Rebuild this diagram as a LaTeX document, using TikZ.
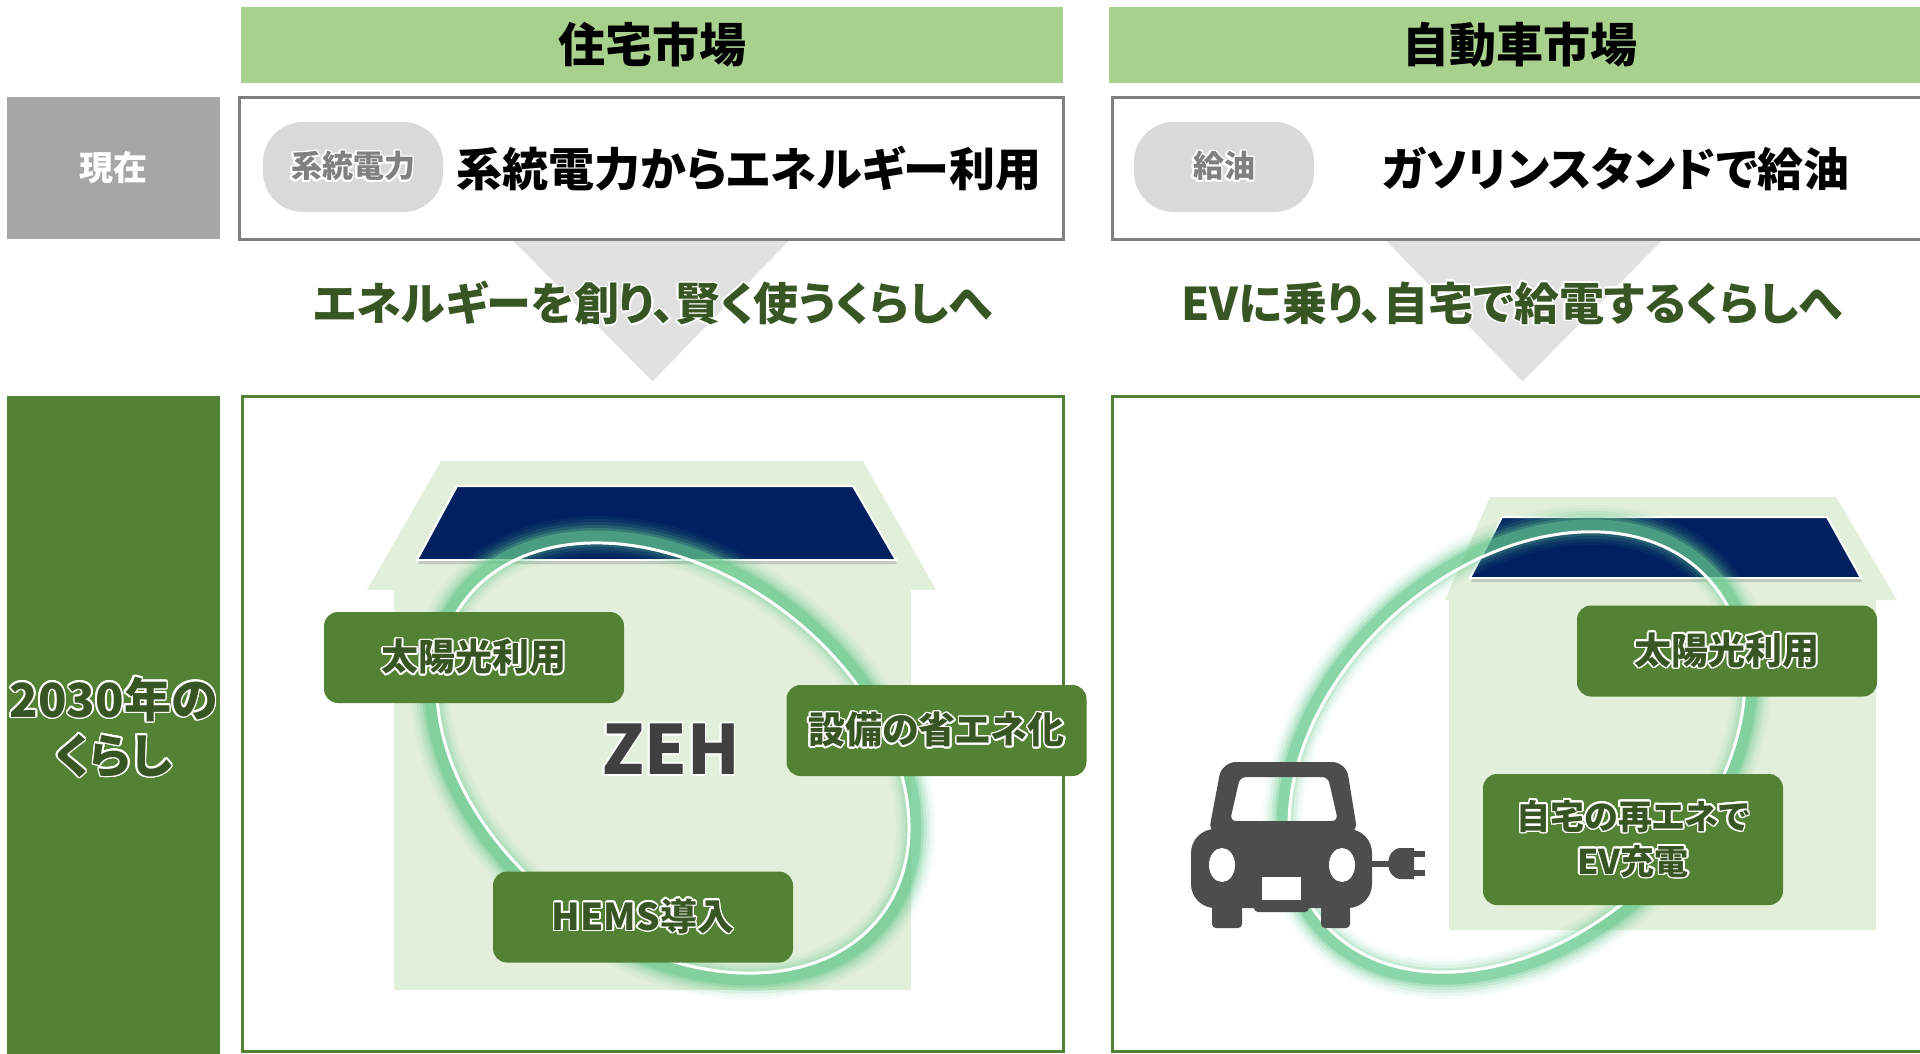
\documentclass[tikz,border=0pt]{standalone}
\usepackage{fontspec}
\setmainfont{Noto Sans CJK JP}[RawFeature=+palt]
\usepackage{xcolor}
\usepackage[copies]{contour}
\usetikzlibrary{positioning,shadows,calc,backgrounds}
\definecolor{hdrgreen}{RGB}{169,209,142}
\definecolor{lifegreen}{RGB}{84,130,53}
\definecolor{txtgreen}{RGB}{55,86,35}
\definecolor{housegreen}{RGB}{226,239,218}
\definecolor{panelnavy}{RGB}{0,32,96}
\definecolor{nowgray}{RGB}{166,166,166}
\definecolor{boxgray}{RGB}{128,128,128}
\definecolor{pillgray}{RGB}{217,217,217}
\definecolor{arrowgray}{RGB}{225,225,225}
\definecolor{glowgreen}{RGB}{100,200,140}
\definecolor{cargray}{RGB}{77,77,77}
\definecolor{zehgray}{RGB}{64,64,64}
\contourlength{1.6pt}
\newcommand\glowtxt[1]{\contour{white}{#1}}

\begin{document}
\begin{tikzpicture}[x=1pt, y=-1pt,
    hdr/.style={fill=hdrgreen, minimum width=822, minimum height=76, inner sep=0,
      font=\fontsize{47}{50}\selectfont\bfseries},
    sidebox/.style={inner sep=0, minimum width=213, font=\fontsize{34}{38}\selectfont\bfseries},
    nowbox/.style={draw=boxgray, line width=3, fill=white, minimum width=824, minimum height=142},
    lifebox/.style={draw=lifegreen, line width=3, minimum width=821, minimum height=655},
    pill/.style={fill=pillgray, rounded corners=40, minimum width=180, minimum height=90,
      text=boxgray, font=\fontsize{31}{34}\selectfont\bfseries},
    nowtxt/.style={font=\fontsize{46}{50}\selectfont\bfseries},
    msgtxt/.style={text=txtgreen, font=\fontsize{45}{50}\selectfont\bfseries},
    tag/.style={fill=lifegreen, rounded corners=14, minimum width=300, minimum height=91,
      text=txtgreen, align=center, font=\fontsize{37}{45}\selectfont\bfseries},
    house/.style={fill=housegreen},
    panel/.style={fill=panelnavy, draw=white, line width=2,
      drop shadow={opacity=0.35, shadow xshift=1pt, shadow yshift=-4pt}},
    glow/.style={glowgreen, line width=#1}]
    \useasboundingbox (0,0) rectangle (1920,1053);

    % Headers
    \node[hdr] (homehdr) at (652,45) {住宅市場};
    \node[hdr, right=46pt of homehdr] (carhdr) {自動車市場};

    % Row labels
    \node[sidebox, fill=nowgray, minimum height=142, text=white] (nowlbl) at (113.5,168) {現在};
    \node[sidebox, fill=lifegreen, minimum height=664, text=txtgreen, align=center,
      font=\fontsize{47}{56}\selectfont\bfseries] (lifelbl) at (113.5,728)
      {\glowtxt{2030年の}\\\glowtxt{くらし}};

    % Present
    \node[nowbox] (homenow) at (651,168) {};
    \node[nowbox, right=46pt of homenow] (carnow) {};
    \node[pill] (homepill) at (353,167) {\glowtxt{系統電力}};
    \node[pill] (carpill) at (1224,167) {\glowtxt{給油}};
    \node[nowtxt] (homenowtxt) at (749,169) {系統電力からエネルギー利用};
    \node[nowtxt] (carnowtxt) at (1616,169) {ガソリンスタンドで給油};

    % 2030 frames
    \node[lifebox] (homelife) at (652.5,723.5) {};
    \node[lifebox, right=46pt of homelife] (carlife) {};

    % Arrows
    \begin{pgfonlayer}{background}
      \fill[arrowgray] ($(homenow.south)+(-138,0)$) -- ($(homenow.south)+(138,0)$)
        -- ($(homelife.north)+(0,-13)$) -- cycle;
      \fill[arrowgray] ($(carnow.south)+(-138,0)$) -- ($(carnow.south)+(138,0)$)
        -- ($(carlife.north)+(0,-13)$) -- cycle;
    \end{pgfonlayer}
    \node[msgtxt] (homemsg) at (653,304) {\glowtxt{エネルギーを創り、賢く使うくらしへ}};
    \node[msgtxt] (carmsg) at (1512,304) {\glowtxt{EVに乗り、自宅で給電するくらしへ}};

    % ZEH house
    \fill[house] (441,461) -- (863,461) -- (936,590) -- (911,590) -- (911,990)
      -- (394,990) -- (394,590) -- (367,590) -- cycle;
    \path[panel] (457,486) -- (853,486) -- (896,560) -- (417,560) -- cycle;
    \foreach \w/\o in {40/0.06, 34/0.08, 28/0.12, 22/0.18, 16/0.28, 11/0.45}
      \draw[glow=\w, opacity=\o, rotate around={-37:(673,758)}]
        (673,758) ellipse[x radius=268, y radius=191];
    \draw[white, line width=3, rotate around={-37:(673,758)}]
      (673,758) ellipse[x radius=261, y radius=184];
    \node[tag] (homesun) at (474,657.5) {\glowtxt{太陽光利用}};
    \node[tag] (homesave) at (936.5,730.5) {\glowtxt{設備の省エネ化}};
    \node[tag] (hems) at (643,917) {\glowtxt{HEMS導入}};
    \node[text=zehgray, font=\fontsize{68}{72}\selectfont\bfseries] (zeh) at (671,750) {\glowtxt{ZEH}};

    % EV house
    \fill[house] (1490,497) -- (1836,497) -- (1897,600) -- (1876,600) -- (1876,930)
      -- (1449,930) -- (1449,600) -- (1445,600) -- cycle;
    \path[panel] (1502,517) -- (1827,517) -- (1861,578) -- (1470,578) -- cycle;
    \foreach \w/\o in {40/0.06, 34/0.08, 28/0.12, 22/0.18, 16/0.28, 11/0.45}
      \draw[glow=\w, opacity=\o, rotate around={42:(1517,752)}]
        (1517,752) ellipse[x radius=265, y radius=191];
    \draw[white, line width=3, rotate around={42:(1517,752)}]
      (1517,752) ellipse[x radius=258, y radius=184];
    \node[tag] (carsun) at (1727,651) {\glowtxt{太陽光利用}};
    \node[tag, minimum height=131, font=\fontsize{34}{45}\selectfont\bfseries] (evcharge) at (1633,839.5)
      {\glowtxt{自宅の再エネで}\\\glowtxt{EV充電}};

    % Car with plug
    \fill[cargray, even odd rule, rounded corners=14] (1208,836) -- (1222,762) -- (1346,762) -- (1358,836) -- cycle
      [rounded corners=6] (1230,821) -- (1240,777) -- (1328,777) -- (1338,821) -- cycle;
    \fill[cargray, rounded corners=24] (1191,829) rectangle (1372,908);
    \fill[cargray, rounded corners=4] (1254,878) rectangle (1309,912);
    \fill[cargray, rounded corners=4] (1212,898) rectangle (1242,928);
    \fill[cargray, rounded corners=4] (1321,898) rectangle (1350,928);
    \fill[white] (1222,865) ellipse[x radius=13, y radius=17];
    \fill[white] (1342,865) ellipse[x radius=13, y radius=17];
    \fill[white] (1262,877) rectangle (1301,900);
    \draw[cargray, line width=6] (1370,863.5) -- (1395,863.5);
    \fill[cargray] (1414,848) -- (1401,848) .. controls (1384,848) and (1384,879) .. (1401,879) -- (1414,879) -- cycle;
    \fill[cargray] (1414,851) rectangle (1425,857);
    \fill[cargray] (1414,870) rectangle (1425,876);
\end{tikzpicture}
\end{document}
